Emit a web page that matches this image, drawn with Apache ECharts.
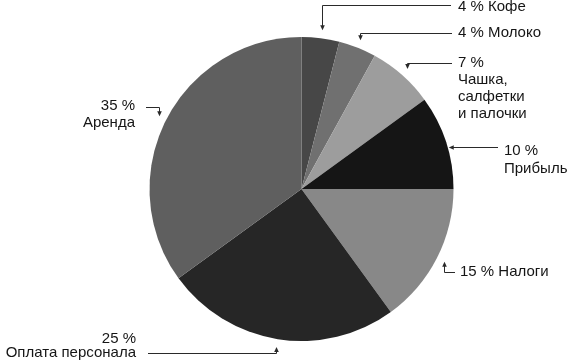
<!DOCTYPE html>
<html>
<head>
<meta charset="utf-8">
<script src="https://cdn.jsdelivr.net/npm/echarts@6/dist/echarts.min.js"></script>
<style>html,body{margin:0;padding:0;background:#fff}#c{width:570px;height:364px}</style>
</head>
<body>
<div id="c"></div>
<script>
// ---- data ----
const categories = ['Кофе', 'Молоко', 'Чашка, салфетки и палочки', 'Прибыль', 'Налоги', 'Оплата персонала', 'Аренда'];
const values = [4, 4, 7, 10, 15, 25, 35];
const labelNames = ['Кофе', 'Молоко', 'Чашка,\nсалфетки\nи палочки', 'Прибыль', 'Налоги', 'Оплата персонала', 'Аренда'];
const labelSep = [' ', ' ', '\n', '\n', ' ', '\n', '\n'];

// ---- styles / layout ----
const colors = ['#474747', '#707070', '#9d9d9d', '#151515', '#888888', '#262626', '#5f5f5f'];
const CX = 301.5, CY = 189, R = 152;
const FONT = '"Liberation Sans", Arial, Helvetica, sans-serif';
const labelLayoutCfg = [
  {lineY: 5,   lineX: 451, tx: 458, ty: 7,     lh: 17, align: 'left',  leg: 'v'},
  {lineY: 33,  lineX: 452, tx: 458, ty: 33,    lh: 17, align: 'left',  leg: 'v'},
  {lineY: 63,  lineX: 452, tx: 458, ty: 63,    lh: 17, align: 'left',  leg: 'v'},
  {lineY: 147, lineX: 498, tx: 504, ty: 151,   lh: 17.5, align: 'left', leg: 'h'},
  {lineY: 272, lineX: 455, tx: 460, ty: 272,   lh: 17, align: 'left',  leg: 'v'},
  {lineY: 353, lineX: 148, tx: 136, ty: 338.5, lh: 14, align: 'right', leg: 'v'},
  {lineY: 107, lineX: 146, tx: 135, ty: 106,   lh: 17, align: 'right', leg: 'v'}
];

const total = values.reduce((a, b) => a + b, 0);
const labelText = values.map((v, i) => v + ' %' + labelSep[i] + labelNames[i]);

const seriesData = categories.map((name, i) => ({
  name: name,
  value: values[i],
  itemStyle: {color: colors[i]},
  label: {lineHeight: labelLayoutCfg[i].lh}
}));

// leader lines with arrowheads, anchored at each slice's mid-angle
const graphics = [];
let cum = 0;
const px = v => Math.round(v) + 0.5;
values.forEach((v, i) => {
  const mid = (cum + v / 2) / total * Math.PI * 2;
  cum += v;
  const cfg = labelLayoutCfg[i];
  const ly = px(cfg.lineY);
  let tip, pts, dir;
  if (cfg.leg === 'h') {
    const dy = ly - CY;
    const side = Math.sin(mid) >= 0 ? 1 : -1;
    const tx = CX + side * Math.sqrt((R + 1) * (R + 1) - dy * dy);
    tip = [tx, ly];
    dir = [Math.sign(tx - cfg.lineX), 0];
    pts = [[cfg.lineX, ly], [tx - dir[0] * 4, ly]];
  } else {
    const rr = R + 8;
    const tx = px(CX + rr * Math.sin(mid));
    const ty = CY - rr * Math.cos(mid);
    tip = [tx, ty];
    dir = [0, Math.sign(ty - ly)];
    pts = [[cfg.lineX, ly], [tx, ly], [tx, ty - dir[1] * 4]];
  }
  graphics.push({
    type: 'polyline', silent: true,
    shape: {points: pts},
    style: {stroke: '#2a2a2a', lineWidth: 1, fill: null}
  });
  const L = 5, W = 2.3;
  const perp = [-dir[1], dir[0]];
  graphics.push({
    type: 'polygon', silent: true,
    shape: {points: [
      tip,
      [tip[0] - dir[0] * L + perp[0] * W, tip[1] - dir[1] * L + perp[1] * W],
      [tip[0] - dir[0] * L - perp[0] * W, tip[1] - dir[1] * L - perp[1] * W]
    ]},
    style: {fill: '#2a2a2a', stroke: null}
  });
});

const chart = echarts.init(document.getElementById('c'), null, {renderer: 'canvas'});
chart.setOption({
  animation: false,
  backgroundColor: '#ffffff',
  series: [{
    type: 'pie',
    center: [CX, CY],
    radius: R,
    startAngle: 90,
    clockwise: true,
    avoidLabelOverlap: false,
    emphasis: {disabled: true},
    data: seriesData,
    label: {
      show: true,
      position: 'inside',
      formatter: p => labelText[p.dataIndex],
      color: '#151515',
      fontSize: 15,
      fontFamily: FONT
    },
    labelLine: {show: false},
    labelLayout: function (params) {
      const cfg = labelLayoutCfg[params.dataIndex];
      const n = labelText[params.dataIndex].split('\n').length;
      return {
        x: cfg.tx,
        y: cfg.ty + (n - 1) * cfg.lh / 2,
        align: cfg.align,
        verticalAlign: 'middle'
      };
    }
  }],
  graphic: graphics
});
</script>
</body>
</html>
